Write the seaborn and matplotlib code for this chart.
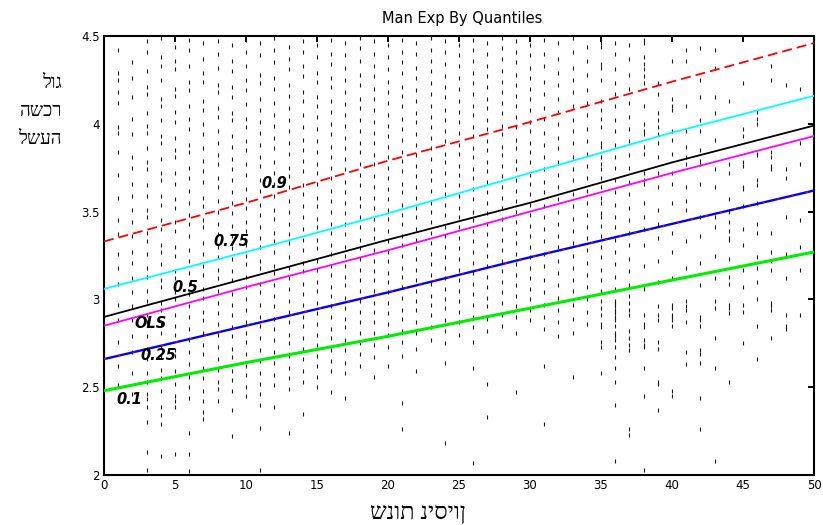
import numpy as np
import pandas as pd
import matplotlib
matplotlib.use("Agg")
import matplotlib.pyplot as plt
import seaborn as sns

# Years of experience and the log hourly wages observed at each year (in hundredths)
exp_years = list(range(1, 50))
log_wage_hundredths = [
    "442 429 425 418 412 398 395 384 371 358 345 337 326 318 309 297 288 276 262 251",
    "435 426 415 403 394 381 375 366 359 351 344 336 327 321 312 304 296 288 279 270 258 246",
    "447 441 430 421 417 406 399 395 386 378 374 365 359 351 347 338 333 326 318 313 305 299 291 287 279 272 266 258 253 246 243 239 230 213 203",
    "449 438 433 425 414 410 402 393 389 380 372 368 359 354 345 340 331 327 320 311 307 298 294 286 281 273 267 260 255 248 239 234 229 211",
    "444 436 431 420 416 407 401 392 385 381 372 366 357 352 344 339 330 325 316 312 304 300 291 285 280 271 268 259 252 245 242 239 212",
    "448 442 433 424 419 410 403 397 388 384 375 369 362 355 348 343 336 328 322 315 309 303 296 290 283 277 270 263 256 250 244 224 212 202",
    "446 437 429 424 413 408 400 394 386 379 373 367 358 353 345 341 332 326 319 314 306 301 293 288 281 274 269 261 255 248 242 236 232",
    "447 440 432 422 418 409 404 396 389 382 377 369 364 356 350 343 337 330 324 317 312 305 298 292 286 280 273 266 260 253 249 242",
    "445 436 430 421 415 406 402 393 387 380 374 368 361 355 349 342 336 329 323 316 311 303 297 291 284 279 272 267 259 254 248 237 222",
    "448 441 433 425 419 411 403 398 390 385 377 371 363 357 352 344 339 331 325 320 313 307 300 294 287 281 276 269 262 257 250 245",
    "446 439 428 423 414 408 401 395 388 381 376 368 362 354 348 341 335 330 322 318 309 304 297 290 285 278 271 265 258 252 246 240 227 203",
    "449 442 435 426 420 412 405 399 392 386 378 372 366 359 351 346 338 333 327 319 315 308 302 296 289 283 277 270 264 257 251 239",
    "444 437 431 422 416 409 402 396 389 383 375 370 364 356 350 343 337 332 324 318 312 306 299 293 287 280 275 268 261 255 249 224",
    "447 441 433 427 418 413 405 398 391 385 379 373 365 360 353 347 340 334 328 321 316 309 303 297 290 285 278 272 266 259 253 235",
    "445 438 429 424 415 410 404 397 390 384 377 372 366 358 353 346 341 334 329 322 317 310 305 298 292 286 280 274 268 262 256 250",
    "448 440 434 426 421 413 407 400 394 387 381 375 369 362 356 350 343 338 331 326 319 314 307 302 296 290 283 278 271 265 259 247",
    "446 439 432 425 418 411 405 399 392 386 380 374 367 361 355 349 343 337 330 325 319 313 308 301 295 289 284 277 271 264 258 244",
    "449 443 436 428 422 414 409 402 396 389 384 377 371 365 358 353 347 341 334 329 323 317 311 305 299 293 287 281 275 269 262",
    "447 440 433 427 420 414 408 401 395 389 382 377 370 364 358 352 346 340 335 328 322 316 311 305 298 293 287 281 274 267 256",
    "445 438 431 424 418 412 405 399 393 387 381 375 369 363 357 351 346 339 333 327 322 315 310 304 298 292 286 280 273 262",
    "448 441 435 429 421 416 410 403 397 391 384 379 373 366 361 354 348 343 336 331 325 318 313 307 301 294 289 282 276 268 241 226",
    "446 440 432 426 419 413 406 401 394 388 382 376 370 364 358 352 347 340 334 329 323 317 311 305 299 294 287 281 272 259",
    "449 442 436 430 423 417 410 404 398 392 386 380 373 368 362 355 350 344 338 332 326 320 314 309 302 297 291 284 277",
    "447 441 434 427 421 415 408 402 396 390 383 378 372 365 360 354 348 341 336 330 324 318 312 306 300 295 288 282 275 264 218",
    "445 439 433 426 420 413 407 401 395 388 383 376 371 365 359 352 347 341 335 329 323 317 311 305 299 293 287 280",
    "448 442 436 429 423 417 410 405 398 393 386 381 374 369 363 357 350 345 339 333 327 321 315 309 303 297 290 284 276 261 207",
    "446 440 433 427 421 414 409 402 397 390 385 378 373 367 361 355 349 343 337 331 325 319 313 307 301 296 289 282 252 233",
    "449 443 437 430 424 418 412 406 399 394 387 382 376 370 364 358 352 346 340 334 328 322 316 310 304 298 291 285",
    "447 441 435 428 422 416 410 404 398 391 386 379 374 368 362 356 350 344 338 332 326 320 314 308 302 296 290 281 247",
    "445 439 432 426 420 414 408 401 396 389 384 378 371 366 360 354 348 342 336 330 324 318 312 306 300 294 288",
    "448 440 433 424 417 409 403 395 388 381 374 367 361 353 347 340 333 326 319 311 304 297 290 283 262 229",
    "446 437 429 422 414 407 400 392 386 378 371 364 357 350 343 336 330 322 315 308 301 294 287 279",
    "449 441 432 425 418 410 402 396 389 381 374 368 360 353 346 339 332 325 318 311 305 297 289 281 256",
    "444 436 428 419 412 405 397 390 383 376 369 362 355 348 341 335 328 321 314 307 300 293 286",
    "448 446 444 434 432 425 413 408 403 398 389 387 381 377 374 369 364 358 355 349 347 342 336 330 324 317 311 305 299 295 291 286 284 276 273 258",
    "446 440 431 423 417 410 402 396 388 381 375 368 361 354 347 341 334 327 320 313 306 299 298 296 294 292 290 288 285 281 279 277 273 267 261 253 240 208",
    "445 437 428 420 412 404 397 390 382 375 367 360 352 345 338 331 323 316 308 302 298 294 291 282 278 274 271 226 223",
    "448 446 438 434 431 427 423 410 400 396 394 387 383 372 368 366 355 347 340 331 319 306 291 286 284 277 274 273 261 245 203",
    "423 417 406 402 398 394 389 381 372 364 351 343 335 322 310 296 291 288 276 272 253 252 237",
    "436 414 410 408 396 391 383 372 366 355 338 327 312 297 295 291 290 288 285 248 245",
    "442 436 410 396 387 381 377 364 356 351 333 318 299 296 294 287 270 263",
    "443 425 415 402 396 385 379 377 366 347 336 321 308 290 288 285 271 269 264 244 226",
    "442 432 415 406 391 374 364 347 341 325 312 299 295 278 261 208",
    "413 377 372 357 350 344 339 335 334 323 313 309 297 295 292 253",
    "423 397 393 378 376 364 363 353 340 331 317 307 297 293 275",
    "407 403 400 383 382 368 365 355 343 338 324 318 310 300 285 266",
    "433 425 384 381 376 374 338 327 322 317 298 296 294 278",
    "422 374 369 347 326 312 291 285 283",
    "420 389 377 345 330 317 291",
]

# Fitted lines: knots along experience and fitted log wage per quantile / OLS
line_x = [0, 10, 20, 30, 40, 50]
q90 = [3.33, 3.55, 3.79, 4.01, 4.24, 4.46]
q75 = [3.06, 3.27, 3.49, 3.72, 3.95, 4.16]
q50 = [2.90, 3.12, 3.34, 3.55, 3.78, 3.99]
ols = [2.85, 3.07, 3.28, 3.50, 3.72, 3.93]
q25 = [2.66, 2.85, 3.04, 3.24, 3.43, 3.62]
q10 = [2.48, 2.64, 2.79, 2.95, 3.11, 3.27]

# Line labels and their anchor positions (experience, log wage)
label_text = ["0.9", "0.75", "0.5", "OLS", "0.25", "0.1"]
label_x = [12.0, 9.0, 5.7, 3.3, 3.8, 1.8]
label_y = [3.66, 3.33, 3.07, 2.86, 2.68, 2.43]

x_ticks = [0, 5, 10, 15, 20, 25, 30, 35, 40, 45, 50]
y_ticks = [2, 2.5, 3, 3.5, 4, 4.5]
y_tick_labels = ["2", "2.5", "3", "3.5", "4", "4.5"]

title = "Man Exp By Quantiles"
x_label = "שנות ניסיון"
y_label_lines = ["לוג", "השכר", "לשעה"]

sns.set_theme(style="white")
plt.rcParams["font.family"] = ["DejaVu Sans"]
hebrew_font = ["Liberation Serif", "DejaVu Sans"]

rows = []
for yr, vals in zip(exp_years, log_wage_hundredths):
    for v in vals.split():
        rows.append((yr, int(v) / 100.0))
dots = pd.DataFrame(rows, columns=["exp", "lw"])

fig = plt.figure(figsize=(8.23, 5.25), dpi=100)
fig.patch.set_facecolor("white")
ax = fig.add_axes([104 / 823, 50 / 525, 710 / 823, 439 / 525])
ax.set_facecolor("white")

sns.scatterplot(data=dots, x="exp", y="lw", ax=ax, marker="|", s=7,
                linewidth=0.8, color="#1a1a1a", legend=False, zorder=1)

styles = [
    (q10, "#00ee00", 2.2),
    (q25, "#0000ff", 1.7),
    (ols, "#ff00ff", 1.3),
    (q50, "#000000", 1.3),
    (q75, "#00ffff", 1.3),
]
for vals, col, lw in styles:
    sns.lineplot(x=line_x, y=vals, ax=ax, color=col, linewidth=lw, zorder=3)

# short red dashes running over the 0.25 line
sns.lineplot(x=line_x, y=q25, ax=ax, color="#c81818", linewidth=1.0, zorder=4)
ax.lines[-1].set_dashes([1.6, 9])

# dashed 0.9 quantile
sns.lineplot(x=line_x, y=q90, ax=ax, color="#ff0000", linewidth=1.3, zorder=3)
ax.lines[-1].set_dashes([5.5, 2.8])

for t, lx, ly in zip(label_text, label_x, label_y):
    ax.text(lx, ly, t, ha="center", va="center", fontsize=10.5,
            fontweight="bold", fontstyle="italic", color="black", zorder=5)

ax.set_xlim(0, 50)
ax.set_ylim(2, 4.5)
ax.set_xticks(x_ticks)
ax.set_yticks(y_ticks)
ax.set_yticklabels(y_tick_labels)
ax.set_xlabel("")
ax.set_ylabel("")
ax.tick_params(direction="in", length=4.5, width=1.4, top=True, right=True,
               labelsize=8.5, colors="black", pad=3)
for sp in ax.spines.values():
    sp.set_visible(True)
    sp.set_linewidth(1.5)
    sp.set_color("black")

fig.text(462 / 823, 1 - 19 / 525, title, ha="center", va="center",
         fontsize=10.5, color="black")
fig.text(418 / 823, 1 - 513 / 525, x_label, ha="center", va="center",
         fontsize=17, family=hebrew_font, color="black")
for i, w in enumerate(y_label_lines):
    fig.text(62 / 823, 1 - (84 + 28 * i) / 525, w, ha="right",
             va="center", fontsize=13.5, family=hebrew_font, color="black")

fig.savefig("out.png", dpi=100, facecolor="white")
